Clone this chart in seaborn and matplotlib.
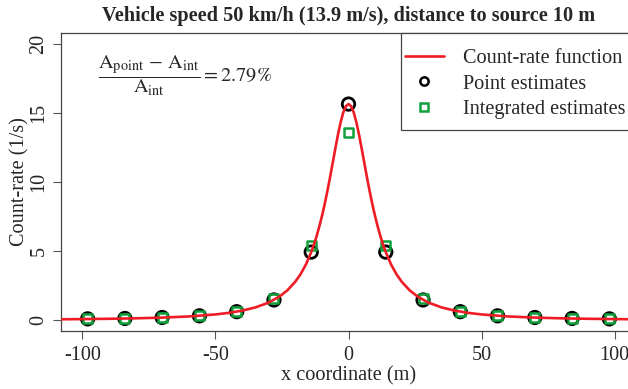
import matplotlib
matplotlib.use("Agg")
import matplotlib.pyplot as plt
from matplotlib.lines import Line2D
from matplotlib.patches import Rectangle
import seaborn as sns
import pandas as pd

# Count-rate function sampled along the track (x in m, rate in 1/s)
curve_x = [-108, -100, -90, -80, -70, -60, -50, -45, -40, -35, -30, -26, -23, -20,
           -18, -16, -14, -13, -12, -11, -10, -9, -8, -7, -6, -5, -4, -3, -2, -1,
           0, 1, 2, 3, 4, 5, 6, 7, 8, 9, 10, 11, 12, 13, 14, 16, 18, 20, 23, 26,
           30, 35, 40, 45, 50, 60, 70, 80, 90, 100, 108]
curve_y = [0.050, 0.063, 0.085, 0.119, 0.171, 0.254, 0.40, 0.513, 0.674, 0.907, 1.26,
           1.69, 2.14, 2.77, 3.32, 4.02, 4.92, 5.46, 6.06, 6.75, 7.51, 8.35, 9.28,
           10.27, 11.32, 12.37, 13.39, 14.29, 15.02, 15.49,
           15.65, 15.49, 15.02, 14.29, 13.39, 12.37, 11.32, 10.27, 9.28, 8.35, 7.51,
           6.75, 6.06, 5.46, 4.92, 4.02, 3.32, 2.77, 2.14, 1.69, 1.26, 0.907, 0.674,
           0.513, 0.40, 0.254, 0.171, 0.119, 0.085, 0.063, 0.050]

# Estimate positions (every 14 m) and the two kinds of estimates
est_x = [-98, -84, -70, -56, -42, -28, -14, 0, 14, 28, 42, 56, 70, 84, 98]
point_est = [0.08, 0.11, 0.18, 0.30, 0.60, 1.45, 4.92, 15.65, 4.92, 1.45, 0.60, 0.30,
             0.18, 0.11, 0.08]
integrated_est = [0.08, 0.11, 0.18, 0.31, 0.63, 1.58, 5.43, 13.57, 5.43, 1.58, 0.63,
                  0.31, 0.18, 0.11, 0.08]

x_ticks = [-100, -50, 0, 50, 100]
y_ticks = [0, 5, 10, 15, 20]

sns.set_theme(style="ticks")
plt.rcParams["font.family"] = ["Liberation Serif", "DejaVu Serif"]
plt.rcParams["mathtext.fontset"] = "stix"

RED = "#ee1c25"
GREEN = "#10a03c"
FS = 14.6

curve = pd.DataFrame({"x": curve_x, "rate": curve_y})
est = pd.DataFrame({"x": est_x, "point": point_est, "integrated": integrated_est})

fig = plt.figure(figsize=(6.28, 3.89), dpi=100)
ax = fig.add_axes([61 / 628, 58 / 389, 575 / 628, 298 / 389])

sns.scatterplot(data=est, x="x", y="point", ax=ax, marker="o", s=80,
                facecolor="none", edgecolor="black", linewidth=2.0, zorder=2)
sns.scatterplot(data=est, x="x", y="integrated", ax=ax, marker="s", s=42,
                facecolor="none", edgecolor=GREEN, linewidth=1.8, zorder=3)
sns.lineplot(data=curve, x="x", y="rate", ax=ax, color=RED, linewidth=1.9,
             zorder=4, estimator=None, sort=False)

ax.set_xlim(-108, 108)
ax.set_ylim(-0.8, 20.8)
ax.set_xticks(x_ticks)
ax.set_yticks(y_ticks)
ax.set_xticklabels([str(v) for v in x_ticks], fontsize=FS)
ax.set_yticklabels([str(v) for v in y_ticks], fontsize=FS, rotation=90, va="center")
ax.tick_params(axis="x", direction="out", length=6, width=0.8, color="#555555", pad=5)
ax.tick_params(axis="y", direction="out", length=6, width=0.8, color="#555555", pad=3)
for sp in ax.spines.values():
    sp.set_visible(True)
    sp.set_color("#444444")
    sp.set_linewidth(0.9)

ax.set_xlabel("x coordinate (m)", fontsize=FS, labelpad=1)
ax.set_ylabel("Count-rate (1/s)", fontsize=FS, labelpad=0)
ax.set_title("Vehicle speed 50 km/h (13.9 m/s), distance to source 10 m",
             fontsize=FS, fontweight="bold", pad=9)

ax.text(0.064, 0.855,
        r"$\dfrac{\mathrm{A}_{\mathrm{point}}\,-\,\mathrm{A}_{\mathrm{int}}}{\mathrm{A}_{\mathrm{int}}} = 2.79\%$",
        transform=ax.transAxes, fontsize=FS, va="center", ha="left")

# Legend frame and entries
ax.add_patch(Rectangle(((401 - 61) / 575, (331 - 130) / 298),
                       1.0, 97 / 298, transform=ax.transAxes, facecolor="white",
                       edgecolor="#444444", linewidth=0.9, zorder=5, clip_on=False))
handles = [
    Line2D([], [], color=RED, linewidth=1.9),
    Line2D([], [], linestyle="none", marker="o", markersize=6, markerfacecolor="none",
           markeredgecolor="black", markeredgewidth=1.8),
    Line2D([], [], linestyle="none", marker="s", markersize=5.5, markerfacecolor="none",
           markeredgecolor=GREEN, markeredgewidth=1.8),
]
labels = ["Count-rate function", "Point estimates", "Integrated estimates"]
leg = ax.legend(handles, labels, loc="upper left",
                bbox_to_anchor=((401 - 61) / 575, (331 - 45) / 298),
                fontsize=FS, frameon=False, borderaxespad=0, borderpad=0.2,
                handlelength=1.9, handletextpad=0.95, labelspacing=0.3)
leg.set_zorder(6)

fig.savefig("out.png", dpi=100)
